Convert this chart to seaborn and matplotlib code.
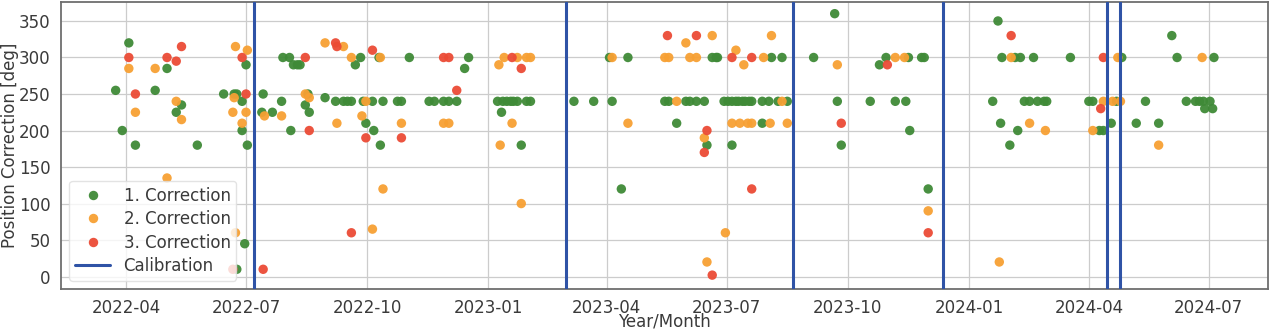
import pandas as pd
import seaborn as sns
import matplotlib.pyplot as plt
import matplotlib.dates as mdates

# 1. Correction (green)
corr1_dates = [
	"2022-03-24", "2022-03-29", "2022-04-03", "2022-04-08", "2022-04-23", "2022-05-02",
	"2022-05-09", "2022-05-13", "2022-05-25", "2022-06-14", "2022-06-22", "2022-06-24",
	"2022-06-24", "2022-06-28", "2022-06-28", "2022-07-01", "2022-07-02", "2022-06-30",
	"2022-07-13", "2022-07-14", "2022-07-21", "2022-07-28", "2022-07-29", "2022-08-03",
	"2022-08-04", "2022-08-06", "2022-08-09", "2022-08-11", "2022-08-15", "2022-08-17",
	"2022-08-18", "2022-08-30", "2022-09-07", "2022-09-13", "2022-09-16", "2022-09-19",
	"2022-09-22", "2022-09-26", "2022-09-28", "2022-09-30", "2022-10-05", "2022-10-06",
	"2022-10-10", "2022-10-11", "2022-10-13", "2022-10-24", "2022-10-27", "2022-11-02",
	"2022-11-17", "2022-11-21", "2022-11-28", "2022-12-02", "2022-12-08", "2022-12-14",
	"2022-12-17", "2023-01-08", "2023-01-11", "2023-01-12", "2023-01-15", "2023-01-18",
	"2023-01-20", "2023-01-23", "2023-01-26", "2023-01-30", "2023-02-02", "2023-03-07",
	"2023-03-22", "2023-04-03", "2023-04-05", "2023-04-12", "2023-04-17", "2023-05-15",
	"2023-05-18", "2023-05-24", "2023-05-31", "2023-06-03", "2023-06-08", "2023-06-14",
	"2023-06-16", "2023-06-20", "2023-06-23", "2023-06-24", "2023-06-29", "2023-07-02",
	"2023-07-05", "2023-07-05", "2023-07-08", "2023-07-10", "2023-07-13", "2023-07-15",
	"2023-07-18", "2023-07-20", "2023-07-28", "2023-07-28", "2023-08-02", "2023-08-04",
	"2023-08-09", "2023-08-12", "2023-08-16", "2023-09-05", "2023-09-21", "2023-09-23",
	"2023-09-26", "2023-10-18", "2023-10-25", "2023-10-30", "2023-11-06", "2023-11-14",
	"2023-11-16", "2023-11-17", "2023-11-26", "2023-11-28", "2023-12-01", "2024-01-19",
	"2024-01-23", "2024-01-25", "2024-01-26", "2024-02-01", "2024-02-05", "2024-02-07",
	"2024-02-09", "2024-02-12", "2024-02-16", "2024-02-19", "2024-02-22", "2024-02-27",
	"2024-02-29", "2024-03-18", "2024-04-01", "2024-04-04", "2024-04-09", "2024-04-12",
	"2024-04-18", "2024-04-22", "2024-04-26", "2024-05-07", "2024-05-14", "2024-05-24",
	"2024-06-03", "2024-06-07", "2024-06-14", "2024-06-21", "2024-06-24", "2024-06-27",
	"2024-06-28", "2024-07-02", "2024-07-04", "2024-07-05"]
corr1_deg = [
	255, 200, 320, 180, 255, 285,
	225, 235, 180, 250, 250, 250,
	10, 240, 200, 290, 180, 45,
	225, 250, 225, 240, 300, 300,
	200, 290, 290, 290, 235, 250,
	225, 245, 240, 240, 240, 240,
	290, 300, 240, 210, 240, 200,
	300, 180, 240, 240, 240, 300,
	240, 240, 240, 240, 240, 285,
	300, 240, 225, 240, 240, 240,
	240, 240, 180, 240, 240, 240,
	240, 300, 240, 120, 300, 240,
	240, 210, 240, 240, 240, 240,
	180, 300, 300, 300, 240, 240,
	240, 180, 240, 240, 240, 240,
	240, 240, 210, 240, 240, 300,
	240, 300, 240, 300, 360, 240,
	180, 240, 290, 300, 240, 240,
	300, 200, 300, 300, 120, 240,
	350, 210, 300, 180, 300, 200,
	300, 240, 240, 300, 240, 240,
	240, 300, 240, 240, 200, 200,
	210, 240, 300, 210, 240, 210,
	330, 300, 240, 240, 240, 240,
	230, 240, 230, 300]

# 2. Correction (orange)
corr2_dates = [
	"2022-04-03", "2022-04-08", "2022-04-23", "2022-05-02", "2022-05-09", "2022-05-13",
	"2022-06-23", "2022-07-02", "2022-06-22", "2022-06-21", "2022-07-01", "2022-06-28",
	"2022-06-23", "2022-07-15", "2022-07-28", "2022-08-15", "2022-08-18", "2022-08-30",
	"2022-09-08", "2022-09-13", "2022-09-19", "2022-09-27", "2022-09-30", "2022-10-05",
	"2022-10-11", "2022-10-13", "2022-10-27", "2022-11-28", "2022-12-02", "2023-01-09",
	"2023-01-10", "2023-01-13", "2023-01-19", "2023-01-23", "2023-01-26", "2023-01-30",
	"2023-02-02", "2023-04-05", "2023-04-17", "2023-05-15", "2023-05-18", "2023-05-24",
	"2023-05-31", "2023-06-03", "2023-06-08", "2023-06-14", "2023-06-16", "2023-06-20",
	"2023-06-30", "2023-07-05", "2023-07-08", "2023-07-11", "2023-07-14", "2023-07-17",
	"2023-07-20", "2023-07-29", "2023-08-03", "2023-08-04", "2023-08-12", "2023-08-16",
	"2023-09-23", "2023-11-06", "2023-11-13", "2023-12-01", "2024-01-24", "2024-02-02",
	"2024-02-16", "2024-02-28", "2024-04-04", "2024-04-12", "2024-04-19", "2024-04-23",
	"2024-04-25", "2024-05-24", "2024-06-26"]
corr2_deg = [
	285, 225, 285, 135, 240, 215,
	315, 310, 245, 225, 225, 210,
	60, 220, 220, 250, 245, 320,
	210, 315, 300, 220, 240, 65,
	300, 120, 210, 210, 210, 290,
	180, 300, 210, 300, 100, 300,
	300, 300, 210, 300, 300, 240,
	320, 300, 300, 190, 20, 330,
	60, 210, 310, 210, 290, 210,
	210, 300, 210, 330, 240, 210,
	290, 300, 300, 90, 20, 300,
	210, 200, 200, 240, 240, 300,
	240, 180, 300]

# 3. Correction (red)
corr3_dates = [
	"2022-04-03", "2022-04-08", "2022-05-02", "2022-05-09", "2022-05-13", "2022-06-28",
	"2022-07-01", "2022-06-21", "2022-07-14", "2022-08-15", "2022-08-18", "2022-09-07",
	"2022-09-08", "2022-09-19", "2022-09-30", "2022-10-05", "2022-10-27", "2022-11-28",
	"2022-12-02", "2022-12-08", "2023-01-19", "2023-01-26", "2023-05-17", "2023-06-08",
	"2023-06-16", "2023-06-14", "2023-06-20", "2023-07-05", "2023-07-20", "2023-07-20",
	"2023-09-26", "2023-10-31", "2023-12-01", "2024-02-02", "2024-04-10", "2024-04-12"]
corr3_deg = [
	300, 250, 300, 295, 315, 300,
	250, 10, 10, 300, 200, 320,
	315, 60, 190, 310, 190, 300,
	300, 255, 300, 285, 330, 330,
	200, 170, 2, 300, 300, 120,
	210, 290, 60, 330, 230, 300]

calibration_dates = ["2022-07-07", "2023-03-01", "2023-08-20", "2023-12-12", "2024-04-15", "2024-04-25"]

series_names = ["1. Correction", "2. Correction", "3. Correction"]
series_colors = ["#3f8a37", "#f7a033", "#eb4b35"]
calib_color = "#2f53a6"


def build_frame():
	frames = []
	for name, dates, vals in zip(series_names,
			[corr1_dates, corr2_dates, corr3_dates],
			[corr1_deg, corr2_deg, corr3_deg]):
		frames.append(pd.DataFrame({
			'Year/Month': pd.to_datetime(dates),
			'Position Correction [deg]': vals,
			'Correction': name}))
	return pd.concat(frames, ignore_index=True)


def create_graph(df, output_file):
	sns.set_style("whitegrid")
	fs = 12
	plt.rcParams['font.family'] = ['DejaVu Sans']
	plt.rcParams['font.size'] = fs
	for k in ['text.color', 'axes.labelcolor', 'xtick.color', 'ytick.color']:
		plt.rcParams[k] = '#3a3a3a'

	fig, ax = plt.subplots(figsize=(12.71, 3.32), dpi=100)
	fig.subplots_adjust(left=0.048, right=0.9976, top=0.994, bottom=0.1295)

	sns.scatterplot(data=df, x='Year/Month', y='Position Correction [deg]',
		hue='Correction', palette=dict(zip(series_names, series_colors)),
		s=46, linewidth=0, alpha=0.95, zorder=3, ax=ax)

	# Calibration events
	for i, d in enumerate(pd.to_datetime(calibration_dates)):
		ax.axvline(d, color=calib_color, lw=2.2, zorder=4,
			label='Calibration' if i == 0 else None)

	ax.set_xlim(pd.Timestamp("2022-02-10 12:00"), pd.Timestamp("2024-08-15"))
	ax.set_ylim(-17, 376)
	ax.xaxis.set_major_locator(mdates.MonthLocator(bymonth=[1, 4, 7, 10]))
	ax.xaxis.set_major_formatter(mdates.DateFormatter('%Y-%m'))
	ax.tick_params(labelsize=fs, pad=4)
	ax.set_xlabel('Year/Month', fontsize=fs)
	ax.set_ylabel('Position Correction [deg]', fontsize=fs)
	# put the axis labels where they sit in the original
	ax.xaxis.set_label_coords(0.5, -0.083)
	ax.yaxis.set_label_coords(-0.0345, 0.5)

	ax.grid(color='#cccccc', lw=0.9)
	for sp in ax.spines.values():
		sp.set_color('#6e6e6e')
		sp.set_linewidth(1.3)

	handles, labels = ax.get_legend_handles_labels()
	leg = ax.legend(handles, labels, loc='lower left', fontsize=fs,
		frameon=True, borderaxespad=0.5, labelspacing=0.32, borderpad=0.35,
		handlelength=2.1)
	leg.get_frame().set_edgecolor('#dddddd')

	plt.savefig(output_file, dpi=100)


def main():
	df = build_frame()
	create_graph(df, 'out.png')


if __name__ == "__main__":
	main()
